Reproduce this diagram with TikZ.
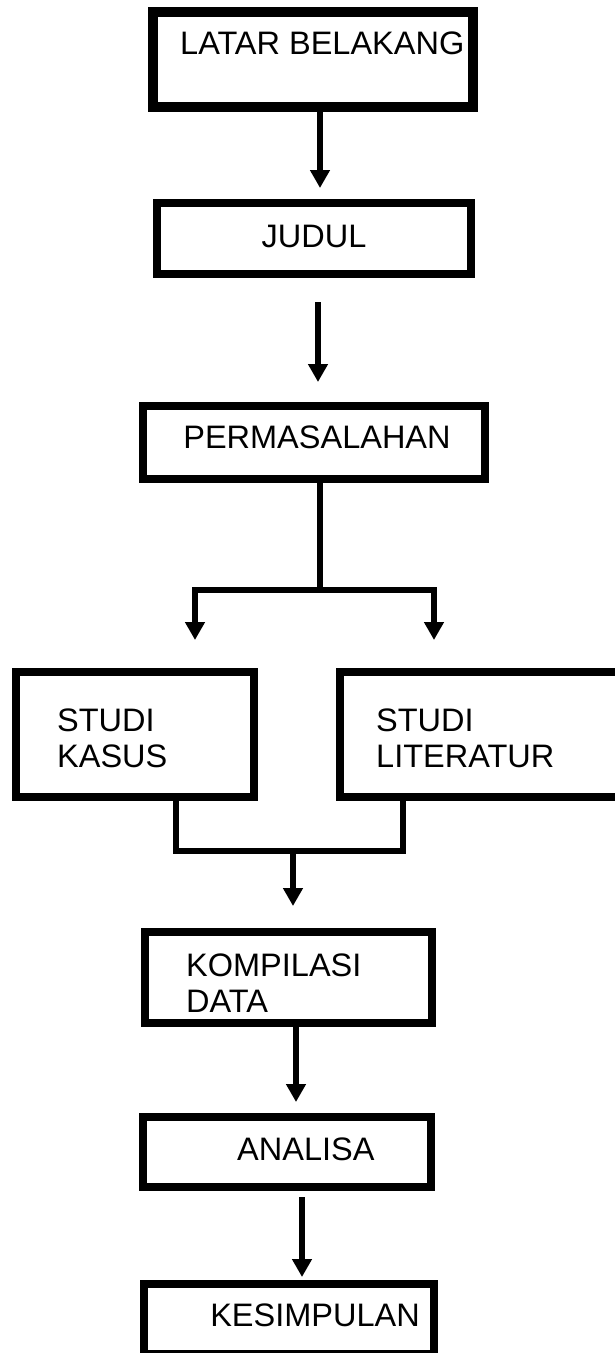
\documentclass[tikz,border=0pt]{standalone}
\usepackage{fontspec}
\setmainfont{Liberation Sans}
\usetikzlibrary{arrows.meta}
\begin{document}
\begin{tikzpicture}[x=1pt,y=-1pt,
  box/.style={draw, line width=8pt, rectangle, inner sep=0pt, outer sep=0pt},
  conn/.style={line width=6pt, line join=miter},
  arr/.style={conn, -{Triangle[length=18pt,width=19pt]}},
  lbl/.style={font=\fontsize{32.5}{36}\selectfont, inner sep=0pt, anchor=base west, align=left}]
\clip (0,0) rectangle (615,1353);
\fill[white] (0,0) rectangle (615,1353);
% boxes
\node[box, line width=10pt, minimum width=320pt, minimum height=95pt] (A) at (313,59.5) {};
\node[box, minimum width=314pt, minimum height=71pt] (B) at (314,238.5) {};
\node[box, minimum width=342pt, minimum height=73pt] (C) at (314,442.5) {};
\node[box, minimum width=238pt, minimum height=125pt] (D) at (135,734.5) {};
\node[box, minimum width=300pt, minimum height=125pt] (E) at (490,734.5) {};
\node[box, minimum width=287pt, minimum height=91pt] (F) at (288.5,977.5) {};
\node[box, minimum width=288pt, minimum height=70pt] (G) at (287,1152) {};
\node[box, minimum width=290pt, minimum height=70pt] (H) at (289,1319) {};
% labels (multi-line labels are anchored at the baseline of their last line)
\node[lbl] (tA) at (180,54) {LATAR BELAKANG};
\node[lbl, anchor=base] (tB) at (314,247) {JUDUL};
\node[lbl, anchor=base] (tC) at (317,448) {PERMASALAHAN};
\node[lbl] (tD) at (57,767) {STUDI\\KASUS};
\node[lbl] (tE) at (376,767) {STUDI\\LITERATUR};
\node[lbl] (tF) at (186,1012) {KOMPILASI\\DATA};
\node[lbl] (tG) at (237,1160) {ANALISA};
\node[lbl, anchor=base east] (tH) at (420,1326) {KESIMPULAN};
% connector coordinates
\coordinate (t1) at (320,188);
\coordinate (s2) at (318,302);
\coordinate (t2) at (318,382);
\coordinate (j) at (320,590);
\coordinate (tl) at (195,640);
\coordinate (tr) at (434,640);
\coordinate (bl) at (176,851);
\coordinate (br) at (403,851);
\coordinate (bm) at (293,851);
\coordinate (t5) at (293,906);
\coordinate (t6) at (296,1102);
\coordinate (s7) at (302,1197);
\coordinate (t7) at (302,1277);
% connectors
\draw[arr] (A.south -| t1) -- (t1);
\draw[arr] (s2) -- (t2);
\draw[conn] (C.south -| j) -- (j);
\draw[arr] (j) -| (tl);
\draw[arr] (j) -| (tr);
\draw[conn] (D.south -| bl) -- (bl) -- (br) -- (E.south -| br);
\draw[arr] (bm) -- (t5);
\draw[arr] (F.south -| t6) -- (t6);
\draw[arr] (s7) -- (t7);
\end{tikzpicture}
\end{document}
